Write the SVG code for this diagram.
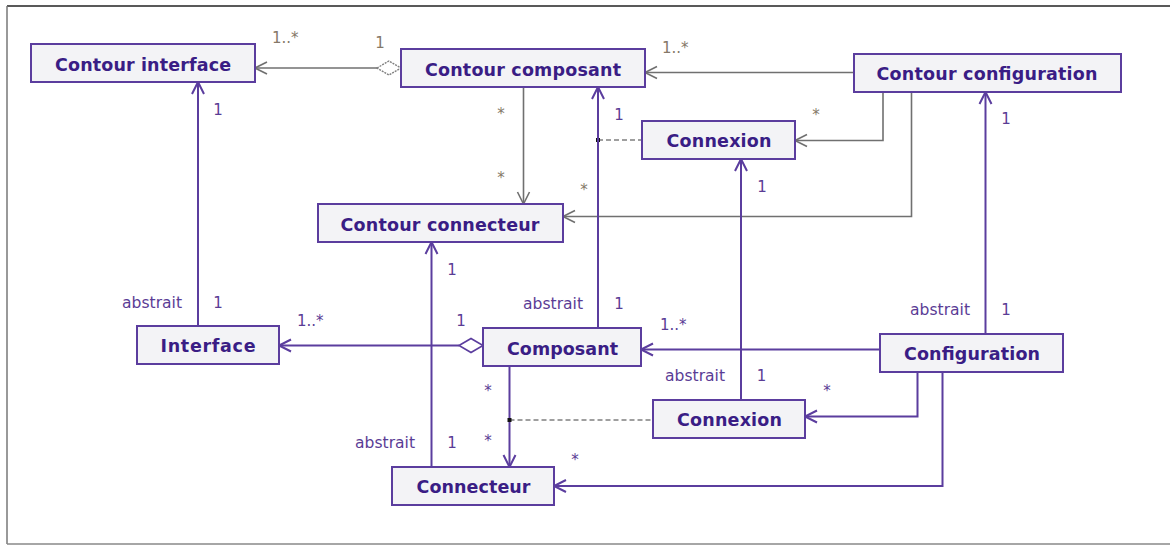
<svg xmlns="http://www.w3.org/2000/svg" width="1170" height="545" viewBox="0 0 1170 545">
<style>
.box{fill:#f3f3f6;stroke:#5b3d9e;stroke-width:2}
.nt{font-family:"DejaVu Sans",Verdana,sans-serif;font-weight:bold;font-size:17.5px;fill:#3a1d85;text-anchor:middle}
.g{fill:none;stroke:#707070;stroke-width:1.6}
.p{fill:none;stroke:#5b3d9e;stroke-width:2}
.d{fill:none;stroke:#808080;stroke-width:1.6;stroke-dasharray:5,3}
.lg{font-family:"DejaVu Sans",Verdana,sans-serif;font-size:15px;fill:#857868}
.lp{font-family:"DejaVu Sans",Verdana,sans-serif;font-size:15px;fill:#5a3c95}
.c{text-anchor:middle}
</style>
<defs>
<marker id="ag" markerUnits="userSpaceOnUse" markerWidth="16" markerHeight="16" refX="0" refY="0" viewBox="-14 -8 16 16" orient="auto" overflow="visible">
<path d="M-12,-6 L0,0 L-12,6" fill="none" stroke="#707070" stroke-width="1.6"/>
</marker>
<marker id="ap" markerUnits="userSpaceOnUse" markerWidth="16" markerHeight="16" refX="0" refY="0" viewBox="-14 -8 16 16" orient="auto" overflow="visible">
<path d="M-12,-6 L0,0 L-12,6" fill="none" stroke="#5b3d9e" stroke-width="2"/>
</marker>
</defs>
<rect width="1170" height="545" fill="#ffffff"/>
<g id="frame">
<line x1="7" y1="6" x2="1170" y2="6" stroke="#222" stroke-width="1.5"/>
<line x1="7" y1="6" x2="7" y2="544" stroke="#777" stroke-width="1.5"/>
<line x1="7" y1="544" x2="1170" y2="544" stroke="#888" stroke-width="1.5"/>
</g>
<g id="connectors">
<line class="g" x1="377" y1="68" x2="255" y2="68" marker-end="url(#ag)"/>
<polygon points="377,68 389,61 401,68 389,75" fill="#fff" stroke="#808080" stroke-width="1.4" stroke-dasharray="2,1"/>
<line class="g" x1="854" y1="72.5" x2="645" y2="72.5" marker-end="url(#ag)"/>
<line class="g" x1="523.5" y1="87" x2="523.5" y2="204" marker-end="url(#ag)"/>
<polyline class="g" points="883,92 883,140.5 795,140.5" marker-end="url(#ag)"/>
<polyline class="g" points="911.5,92 911.5,216.5 563,216.5" marker-end="url(#ag)"/>
<line class="d" x1="598" y1="140" x2="642" y2="140"/>
<rect x="596" y="138" width="4" height="4" fill="#111"/>
<line class="p" x1="198" y1="326" x2="198" y2="82" marker-end="url(#ap)"/>
<line class="p" x1="598" y1="328" x2="598" y2="87" marker-end="url(#ap)"/>
<line class="p" x1="741" y1="400" x2="741" y2="159" marker-end="url(#ap)"/>
<line class="p" x1="985.5" y1="334" x2="985.5" y2="92" marker-end="url(#ap)"/>
<line class="p" x1="431.5" y1="467" x2="431.5" y2="242" marker-end="url(#ap)"/>
<line class="p" x1="459" y1="345.5" x2="279" y2="345.5" marker-end="url(#ap)"/>
<polygon points="459,345.5 471,338.5 483,345.5 471,352.5" fill="#fff" stroke="#5b3d9e" stroke-width="1.6"/>
<line class="p" x1="880" y1="349.5" x2="641" y2="349.5" marker-end="url(#ap)"/>
<line class="p" x1="509.5" y1="366" x2="509.5" y2="467" marker-end="url(#ap)"/>
<polyline class="p" points="917.5,372 917.5,416.5 805,416.5" marker-end="url(#ap)"/>
<polyline class="p" points="942.5,372 942.5,486 554,486" marker-end="url(#ap)"/>
<line class="d" x1="509.5" y1="420" x2="653" y2="420"/>
<rect x="507.5" y="418" width="4" height="4" fill="#111"/>
</g>
<g id="labels">
<text class="lg" x="272" y="43">1..*</text>
<text class="lg c" x="380" y="48">1</text>
<text class="lp c" x="218" y="115">1</text>
<text class="lg c" x="501" y="119">*</text>
<text class="lg c" x="501" y="183">*</text>
<text class="lg c" x="584" y="195">*</text>
<text class="lg" x="662" y="53">1..*</text>
<text class="lp c" x="619" y="120">1</text>
<text class="lg c" x="816" y="120">*</text>
<text class="lp c" x="762" y="192">1</text>
<text class="lp c" x="1006" y="124">1</text>
<text class="lp" x="122" y="307.5" textLength="60" lengthAdjust="spacingAndGlyphs">abstrait</text>
<text class="lp c" x="218" y="307.5">1</text>
<text class="lp" x="297" y="326">1..*</text>
<text class="lp c" x="461" y="326">1</text>
<text class="lp c" x="452" y="275">1</text>
<text class="lp" x="355" y="447.5" textLength="60" lengthAdjust="spacingAndGlyphs">abstrait</text>
<text class="lp c" x="452" y="447.5">1</text>
<text class="lp" x="523" y="309" textLength="60" lengthAdjust="spacingAndGlyphs">abstrait</text>
<text class="lp c" x="619" y="308.5">1</text>
<text class="lp c" x="488" y="395.5">*</text>
<text class="lp c" x="488" y="446">*</text>
<text class="lp c" x="575" y="464.5">*</text>
<text class="lp" x="660" y="330">1..*</text>
<text class="lp" x="910" y="315" textLength="60" lengthAdjust="spacingAndGlyphs">abstrait</text>
<text class="lp c" x="1006" y="315">1</text>
<text class="lp" x="665" y="380.5" textLength="60" lengthAdjust="spacingAndGlyphs">abstrait</text>
<text class="lp c" x="761.5" y="380.5">1</text>
<text class="lp c" x="827" y="395.5">*</text>
</g>
<g id="contour-interface"><rect class="box" x="31" y="44" width="224" height="38"/><text class="nt" x="143" y="70.5" textLength="176" lengthAdjust="spacing">Contour interface</text></g>
<g id="contour-composant"><rect class="box" x="401" y="49" width="244" height="38"/><text class="nt" x="523" y="75.5" textLength="196" lengthAdjust="spacing">Contour composant</text></g>
<g id="contour-configuration"><rect class="box" x="854" y="54" width="267" height="38"/><text class="nt" x="987" y="80" textLength="221" lengthAdjust="spacing">Contour configuration</text></g>
<g id="connexion-contour"><rect class="box" x="642" y="121" width="153" height="38"/><text class="nt" x="719" y="147" textLength="105" lengthAdjust="spacing">Connexion</text></g>
<g id="contour-connecteur"><rect class="box" x="318" y="204" width="245" height="38"/><text class="nt" x="440" y="230.5" textLength="199" lengthAdjust="spacing">Contour connecteur</text></g>
<g id="interface"><rect class="box" x="137" y="326" width="142" height="38"/><text class="nt" x="208" y="352" textLength="95" lengthAdjust="spacing">Interface</text></g>
<g id="composant"><rect class="box" x="483" y="328" width="158" height="38"/><text class="nt" x="562.5" y="354.5" textLength="111" lengthAdjust="spacing">Composant</text></g>
<g id="configuration"><rect class="box" x="880" y="334" width="183" height="38"/><text class="nt" x="972" y="360" textLength="136" lengthAdjust="spacing">Configuration</text></g>
<g id="connexion"><rect class="box" x="653" y="400" width="152" height="38"/><text class="nt" x="729.5" y="426" textLength="105" lengthAdjust="spacing">Connexion</text></g>
<g id="connecteur"><rect class="box" x="392" y="467" width="162" height="38"/><text class="nt" x="473.5" y="493" textLength="114" lengthAdjust="spacing">Connecteur</text></g>
</svg>
